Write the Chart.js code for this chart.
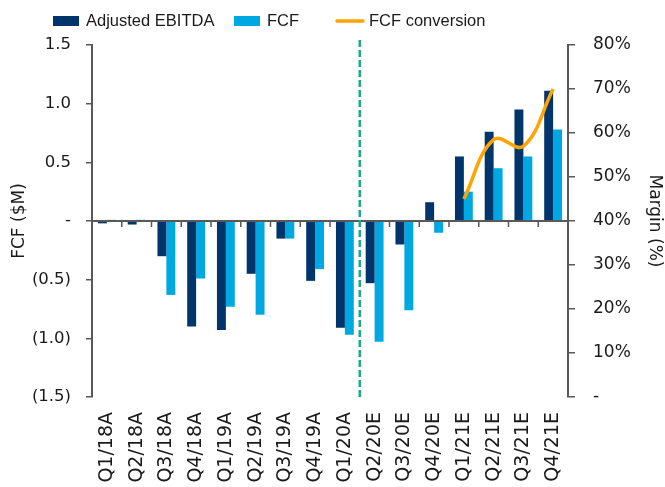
<!doctype html>
<html lang="en">
<head>
  <meta charset="utf-8">
  <meta name="viewport" content="width=device-width, initial-scale=1">
  <title>Adjusted EBITDA vs FCF</title>
  <script src="https://cdn.jsdelivr.net/npm/chart.js/dist/chart.umd.min.js"></script>
  <style>
    html, body { margin: 0; padding: 0; background: #fff; }
    .chartBox { width: 665px; height: 487px; }
  </style>
</head>
<body>
  <div class="chartBox">
    <canvas id="myChart"></canvas>
  </div>

  <script>
    const quarters = ['Q1/18A', 'Q2/18A', 'Q3/18A', 'Q4/18A', 'Q1/19A', 'Q2/19A', 'Q3/19A', 'Q4/19A',
      'Q1/20A', 'Q2/20E', 'Q3/20E', 'Q4/20E', 'Q1/21E', 'Q2/21E', 'Q3/21E', 'Q4/21E'];
    const adjEbitda = [-0.02, -0.03, -0.30, -0.90, -0.93, -0.45, -0.15, -0.51,
      -0.91, -0.53, -0.20, 0.16, 0.55, 0.76, 0.95, 1.11];
    const fcf = [0.01, 0.01, -0.63, -0.49, -0.73, -0.80, -0.15, -0.41,
      -0.97, -1.03, -0.76, -0.10, 0.25, 0.45, 0.55, 0.78];
    // FCF conversion (%), only forecast 2021
    const fcfConversion = [null, null, null, null, null, null, null, null,
      null, null, null, null, 45, 58.5, 57, 70];
    const forecastStart = 'Q2/20E';

    const axisGrey = '#595959';
    const textCol = '#1a1a1a';

    // fmt for left axis: negatives in brackets, zero as dash
    function fmtLeft(v) {
      if (Math.abs(v) < 1e-9) return '-';
      if (v < 0) return '(' + Math.abs(v).toFixed(1) + ')';
      return v.toFixed(1);
    }

    // legend drawn by hand so items sit like the original
    const customLegend = {
      id: 'customLegend',
      afterDraw(chart, args, opts) {
        const ctx = chart.ctx;
        ctx.save();
        ctx.font = '16.5px "Liberation Sans"';
        ctx.textBaseline = 'middle';
        chart.data.datasets.forEach((ds, i) => {
          const x = opts.itemX[i];
          const y = opts.y;
          if (ds.type === 'line') {
            ctx.strokeStyle = ds.borderColor;
            ctx.lineWidth = 3.5;
            ctx.lineCap = 'round';
            ctx.beginPath();
            ctx.moveTo(x + 1, y);
            ctx.lineTo(x + 27, y);
            ctx.stroke();
          } else {
            ctx.fillStyle = ds.backgroundColor;
            ctx.fillRect(x, y - 5, 26, 10);
          }
          ctx.fillStyle = textCol;
          ctx.fillText(ds.label, x + 33, y);
        });
        ctx.restore();
      }
    };

    // zero line with category ticks + dashed actual/forecast divider
    const guides = {
      id: 'guides',
      afterDatasetsDraw(chart) {
        const { ctx, chartArea, scales } = chart;
        const x = scales.x, y = scales.y;
        const y0 = y.getPixelForValue(0);
        ctx.save();
        ctx.strokeStyle = axisGrey;
        ctx.lineWidth = 2;
        ctx.beginPath();
        ctx.moveTo(chartArea.left, y0);
        ctx.lineTo(chartArea.right, y0);
        ctx.stroke();

        ctx.lineWidth = 1.5;
        for (let i = 1; i < quarters.length; i++) {
          const bx = (x.getPixelForValue(i - 1) + x.getPixelForValue(i)) / 2;
          ctx.beginPath();
          ctx.moveTo(bx, y0);
          ctx.lineTo(bx, y0 + 6);
          ctx.stroke();
        }

        const k = quarters.indexOf(forecastStart);
        const dx = (x.getPixelForValue(k - 1) + x.getPixelForValue(k)) / 2;
        ctx.strokeStyle = '#1AAA8C';
        ctx.lineWidth = 2.5;
        ctx.setLineDash([7, 3]);
        ctx.beginPath();
        ctx.moveTo(dx, chartArea.top - 5);
        ctx.lineTo(dx, chartArea.bottom);
        ctx.stroke();
        ctx.restore();
      }
    };

    const data = {
      labels: quarters,
      datasets: [
        {
          type: 'bar',
          label: 'Adjusted EBITDA',
          data: adjEbitda,
          backgroundColor: '#00356B',
          yAxisID: 'y',
          categoryPercentage: 0.6,
          barPercentage: 1.0,
          order: 1
        },
        {
          type: 'bar',
          label: 'FCF',
          data: fcf,
          backgroundColor: '#00A8E1',
          yAxisID: 'y',
          categoryPercentage: 0.6,
          barPercentage: 1.0,
          order: 2
        },
        {
          type: 'line',
          label: 'FCF conversion',
          data: fcfConversion,
          borderColor: '#FFA400',
          borderWidth: 3.5,
          tension: 0.4,
          pointRadius: 0,
          fill: false,
          yAxisID: 'y1',
          order: 0
        }
      ]
    };

    const config = {
      type: 'bar',
      data,
      options: {
        responsive: true,
        maintainAspectRatio: false,
        animation: false,
        devicePixelRatio: 1,
        layout: { padding: { top: 45, left: 0, right: 0, bottom: 0 } },
        plugins: {
          legend: { display: false },
          tooltip: { enabled: false },
          customLegend: { itemX: [53, 234, 336], y: 21 }
        },
        scales: {
          x: {
            grid: { display: false, drawTicks: false },
            border: { display: false },
            ticks: {
              autoSkip: false,
              minRotation: 90,
              maxRotation: 90,
              padding: 15,
              color: textCol,
              font: { family: 'DejaVu Sans', size: 19 }
            },
            afterFit(s) { s.height = 90; }
          },
          y: {
            position: 'left',
            min: -1.5,
            max: 1.5,
            grid: { drawOnChartArea: false, drawTicks: true, tickLength: 6, color: axisGrey, lineWidth: 1.5 },
            border: { display: true, color: axisGrey, width: 2 },
            ticks: {
              stepSize: 0.5,
              padding: 15,
              color: textCol,
              font: { family: 'DejaVu Sans', size: 16.5 },
              callback: (v) => fmtLeft(v)
            },
            title: {
              display: true,
              text: 'FCF ($M)',
              color: textCol,
              font: { family: 'DejaVu Sans', size: 17 },
              padding: { top: 9, bottom: 0 }
            },
            afterFit(s) { s.width = 92; }
          },
          y1: {
            position: 'right',
            min: 0,
            max: 80,
            grid: { drawOnChartArea: false, drawTicks: true, tickLength: 7, color: axisGrey, lineWidth: 1.5 },
            border: { display: true, color: axisGrey, width: 2 },
            ticks: {
              stepSize: 10,
              padding: 18,
              color: textCol,
              font: { family: 'DejaVu Sans', size: 17 },
              callback: (v) => (v === 0 ? '-' : v + '%')
            },
            title: {
              display: true,
              text: 'Margin (%)',
              color: textCol,
              font: { family: 'DejaVu Sans', size: 17 },
              padding: { top: 0, bottom: 0 }
            },
            afterFit(s) { s.width = 97; }
          }
        }
      },
      plugins: [guides, customLegend]
    };

    new Chart(document.getElementById('myChart'), config);
  </script>
</body>
</html>
